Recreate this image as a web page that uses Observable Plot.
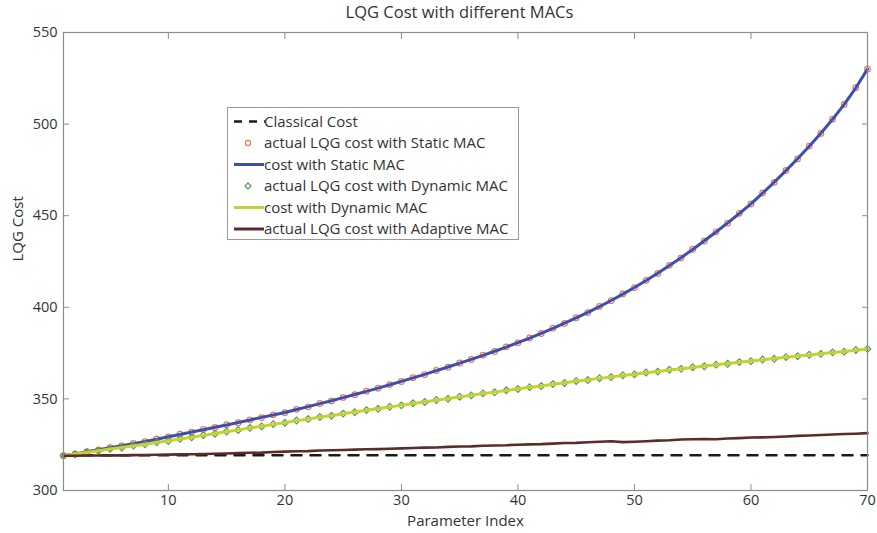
<!DOCTYPE html>
<html><head><meta charset="utf-8">
<script src="https://cdn.jsdelivr.net/npm/d3@7"></script>
<script src="https://cdn.jsdelivr.net/npm/@observablehq/plot@0.6"></script>
<style>
body{margin:0;background:#fff;}
#wrap{position:relative;width:877px;height:533px;font-family:"Open Sans",sans-serif;}
#legend{position:absolute;left:227px;top:107px;width:292px;height:133px;border:1px solid #9a9a9a;background:#fff;box-sizing:border-box;}
</style></head><body><div id="wrap"><div id="legend"></div></div>
<script>
const titleText = "LQG Cost with different MACs";
const xLabel = "Parameter Index";
const yLabel = "LQG Cost";
const xTicks = [10, 20, 30, 40, 50, 60, 70];
const yTicks = [300, 350, 400, 450, 500, 550];

const paramIndex = [1,2,3,4,5,6,7,8,9,10,11,12,13,14,15,16,17,18,19,20,21,22,23,24,25,26,27,28,29,30,31,32,33,34,35,36,37,38,39,40,41,42,43,44,45,46,47,48,49,50,51,52,53,54,55,56,57,58,59,60,61,62,63,64,65,66,67,68,69,70];

const classicalCost = 319.3;

const staticCost = [319.0,320.0,321.1,322.2,323.3,324.4,325.6,326.8,328.0,329.3,
330.6,331.9,333.2,334.5,335.8,337.1,338.5,339.9,341.2,342.6,
344.2,345.8,347.4,349.0,350.7,352.4,354.1,355.9,357.7,359.6,
361.5,363.4,365.4,367.4,369.5,371.6,373.8,376.0,378.3,380.7,
383.2,385.8,388.5,391.3,394.2,397.2,400.4,403.7,407.2,410.8,
414.6,418.6,422.8,427.1,431.6,436.3,441.1,446.1,451.2,456.5,
462.3,468.3,474.6,481.1,487.9,495.0,502.6,510.8,519.8,530.0];

const staticActual = [319.0,319.9,321.2,322.1,323.4,324.3,325.7,326.7,328.1,329.2,
330.7,331.8,333.3,334.4,335.9,337.0,338.6,339.8,341.3,342.5,
344.3,345.7,347.5,348.9,350.8,352.3,354.2,355.8,357.8,359.5,
361.6,363.3,365.5,367.3,369.6,371.5,373.9,375.9,378.4,380.6,
383.3,385.7,388.6,391.2,394.3,397.1,400.5,403.6,407.3,410.7,
414.7,418.5,422.9,427.0,431.7,436.2,441.2,446.0,451.3,456.4,
462.4,468.2,474.7,481.0,488.0,494.9,502.7,510.7,519.9,530.1];

const dynamicCost = [319.0,319.9,320.8,321.7,322.6,323.5,324.4,325.3,326.2,327.1,
328.1,329.1,330.1,331.1,332.1,333.1,334.1,335.1,336.1,337.1,
338.1,339.1,340.0,340.9,341.9,342.8,343.8,344.7,345.6,346.6,
347.5,348.4,349.3,350.2,351.1,352.0,352.9,353.7,354.6,355.5,
356.3,357.1,358.0,358.8,359.6,360.4,361.2,362.0,362.8,363.5,
364.3,365.0,365.8,366.5,367.2,367.9,368.6,369.3,370.0,370.7,
371.4,372.0,372.7,373.4,374.0,374.7,375.3,375.9,376.6,377.2];

const dynamicActual = [319.0,319.8,320.9,321.6,322.7,323.4,324.5,325.2,326.3,327.0,
328.2,329.0,330.2,331.0,332.2,333.0,334.2,335.0,336.2,337.0,
338.2,339.0,340.1,340.8,342.0,342.7,343.9,344.6,345.7,346.5,
347.6,348.3,349.4,350.1,351.2,351.9,353.0,353.6,354.7,355.4,
356.4,357.0,358.1,358.7,359.7,360.3,361.3,361.9,362.9,363.4,
364.4,364.9,365.9,366.4,367.3,367.8,368.7,369.2,370.1,370.6,
371.5,371.9,372.8,373.3,374.1,374.6,375.4,375.8,376.7,377.3];

const adaptiveActual = [319.0,319.0,319.1,319.1,319.2,319.2,319.3,319.4,319.5,319.6,
319.7,319.8,319.9,320.1,320.2,320.4,320.6,320.7,321.0,321.2,
321.4,321.5,321.8,322.0,322.1,322.3,322.5,322.6,322.8,323.0,
323.2,323.4,323.5,323.8,324.0,324.1,324.4,324.6,324.7,325.0,
325.2,325.3,325.6,325.9,326.0,326.3,326.6,326.9,326.4,326.6,
326.9,327.2,327.4,327.8,328.0,328.1,328.0,328.4,328.6,328.9,
329.0,329.2,329.5,329.8,330.0,330.3,330.6,330.8,331.0,331.3];

const seriesNames = ["Classical Cost","actual LQG cost with Static MAC","cost with Static MAC","actual LQG cost with Dynamic MAC","cost with Dynamic MAC","actual LQG cost with Adaptive MAC"];
const colors = {classical:"#1a1a1a", staticDot:"#f0765a", staticLine:"#3a50b0", dynDot:"#4a9d55", dynLine:"#c8d030", adaptive:"#5a2c2a"};

const rows = paramIndex.map((x, i) => ({x, staticCost: staticCost[i], staticActual: staticActual[i], dynamicCost: dynamicCost[i], dynamicActual: dynamicActual[i], adaptive: adaptiveActual[i]}));
const classicalRows = [paramIndex[0], paramIndex[paramIndex.length-1]].map(x => ({x, y: classicalCost}));

const axisGrey = "#8c8c8c";
const chart = Plot.plot({
  width: 877, height: 533,
  marginLeft: 63, marginRight: 10, marginTop: 32, marginBottom: 43,
  style: {fontFamily: "'Open Sans', sans-serif", fontSize: "14.5px", color: "#333", background: "#fff", overflow: "visible"},
  x: {domain: [1, 70]},
  y: {domain: [300, 550]},
  marks: [
    Plot.line(classicalRows, {x: "x", y: "y", stroke: colors.classical, strokeWidth: 2.5, strokeDasharray: "10,9"}),
    Plot.dot(rows, {x: "x", y: "staticActual", r: 2.8, stroke: colors.staticDot, strokeWidth: 1.2, fill: "none"}),
    Plot.line(rows, {x: "x", y: "staticCost", stroke: colors.staticLine, strokeWidth: 3}),
    Plot.dot(rows, {x: "x", y: "dynamicActual", r: 3, symbol: "diamond2", stroke: colors.dynDot, strokeWidth: 1.2, fill: "none"}),
    Plot.line(rows, {x: "x", y: "dynamicCost", stroke: colors.dynLine, strokeWidth: 3}),
    Plot.line(rows, {x: "x", y: "adaptive", stroke: colors.adaptive, strokeWidth: 2.6}),
    Plot.frame({stroke: axisGrey, strokeWidth: 1.2}),
    Plot.axisX({anchor: "bottom", ticks: xTicks, tickSize: -6, tickPadding: 10, stroke: axisGrey, fill: "#333", label: null}),
    Plot.axisX({anchor: "top", ticks: xTicks, tickSize: -6, tickFormat: () => "", stroke: axisGrey, label: null}),
    Plot.axisY({anchor: "left", ticks: yTicks, tickSize: -6, tickPadding: 12, stroke: axisGrey, fill: "#333", label: null}),
    Plot.axisY({anchor: "right", ticks: yTicks, tickSize: -6, tickFormat: () => "", stroke: axisGrey, label: null}),
    Plot.text([xLabel], {frameAnchor: "bottom", lineAnchor: "middle", dy: 31, fill: "#333", fontSize: 15}),
    Plot.text([yLabel], {frameAnchor: "left", dx: -45, rotate: -90, fill: "#333", fontSize: 15}),
    Plot.text([titleText], {frameAnchor: "top", lineAnchor: "middle", dy: -20, dx: -6, fill: "#333", fontSize: 16.5})
  ]
});
document.getElementById("wrap").prepend(chart);

// legend
const lg = d3.select("#legend").append("svg").attr("width", 290).attr("height", 131)
  .style("font-family", "'Open Sans', sans-serif").style("font-size", "15px");
const kinds = ["dash","circle","line","diamond","line","line"];
const kcol = [colors.classical, colors.staticDot, colors.staticLine, colors.dynDot, colors.dynLine, colors.adaptive];
seriesNames.forEach((name, i) => {
  const y = 13.5 + i * 21.5;
  const g = lg.append("g");
  if (kinds[i] === "dash") {
    g.append("line").attr("x1", 6).attr("x2", 37).attr("y1", y).attr("y2", y).attr("stroke", kcol[i]).attr("stroke-width", 2.5).attr("stroke-dasharray", "8,7");
  } else if (kinds[i] === "line") {
    g.append("line").attr("x1", 6).attr("x2", 36).attr("y1", y).attr("y2", y).attr("stroke", kcol[i]).attr("stroke-width", 3);
  } else if (kinds[i] === "circle") {
    g.append("circle").attr("cx", 20).attr("cy", y).attr("r", 2.6).attr("fill", "none").attr("stroke", kcol[i]).attr("stroke-width", 1.2);
  } else {
    g.append("path").attr("d", `M20,${y-3.2}L23,${y}L20,${y+3.2}L17,${y}Z`).attr("fill", "none").attr("stroke", kcol[i]).attr("stroke-width", 1.2);
  }
  g.append("text").attr("x", 36).attr("y", y).attr("dy", "0.35em").attr("fill", "#333").text(name);
});
</script>
</body></html>
